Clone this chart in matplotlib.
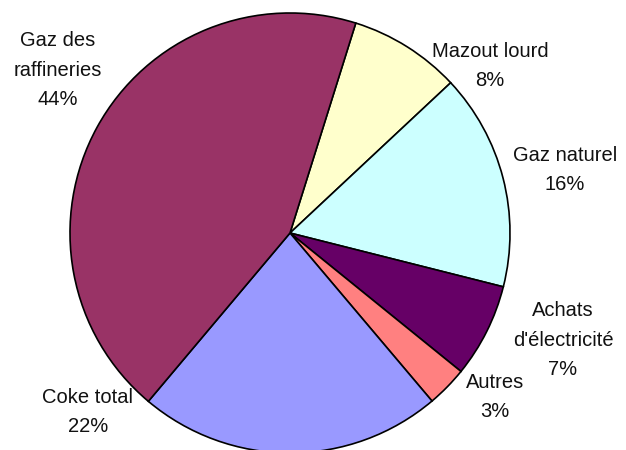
import matplotlib
matplotlib.use("Agg")
import matplotlib.pyplot as plt

categories = ["Mazout lourd", "Gaz naturel", "Achats\nd'électricité", "Autres", "Coke total", "Gaz des\nraffineries"]
values = [8.2, 15.9, 6.9, 3.0, 22.3, 43.7]
colors = ["#FFFFCC", "#CCFFFF", "#660066", "#FF8080", "#9999FF", "#993366"]

# label placement (pixel layout, origin top-left)
label_pos = [(490, 66), (565, 170), (563, 340), (495, 397), (88, 412), (58, 70)]

W, H = 626, 450
fig = plt.figure(figsize=(W / 100, H / 100), dpi=100)
ax = fig.add_axes([0, 0, 1, 1])
ax.pie(values, colors=colors, startangle=72.6, counterclock=False,
       center=(290, H - 233), radius=220,
       wedgeprops=dict(edgecolor="black", linewidth=1.2))
ax.set_xlim(0, W)
ax.set_ylim(0, H)
ax.set_aspect("auto")
ax.axis("off")

for cat, v, (x, y) in zip(categories, values, label_pos):
    ax.text(x, H - y, f"{cat}\n{v:.0f}%", ha="center", va="center",
            fontsize=14.5, family="Liberation Sans", color="#111111",
            linespacing=1.7)

fig.savefig("out.png", dpi=100)
